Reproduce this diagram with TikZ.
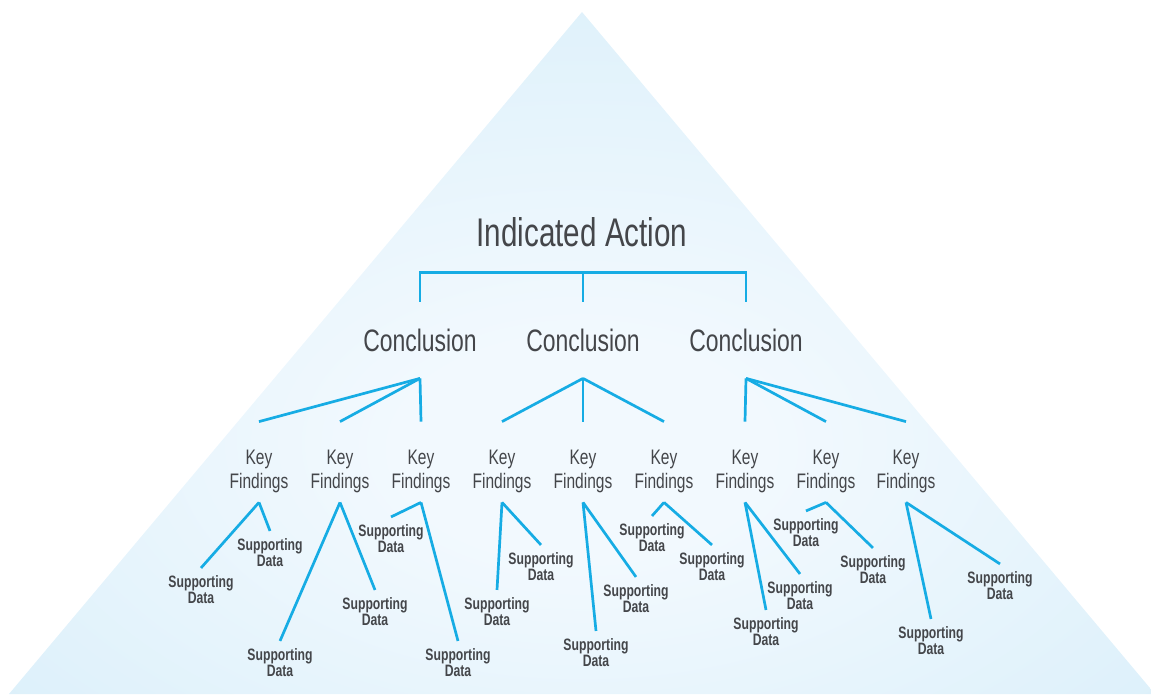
\documentclass[tikz,border=0pt]{standalone}
\usepackage{fontspec}
\setmainfont{Liberation Sans}[FakeStretch=0.74]
\definecolor{linkblue}{RGB}{22,172,228}
\definecolor{txtgray}{RGB}{68,70,74}
\definecolor{pyredge}{RGB}{213,237,249}
\definecolor{pyrmid}{RGB}{242,249,254}
\pgfdeclareradialshading{pyrglow}{\pgfpoint{0bp}{-8bp}}{color(0bp)=(pyrmid); color(8bp)=(pyrmid); color(42bp)=(pyredge); color(70bp)=(pyredge)}
\begin{document}
\begin{tikzpicture}[x=1pt,y=-1pt,
    link/.style={draw=linkblue,line width=2.7pt},
    action/.style={font=\fontsize{40}{40}\selectfont,text=txtgray,inner sep=0pt,outer ysep=26pt},
    concl/.style={font=\fontsize{31}{31}\selectfont,text=txtgray,inner sep=0pt,outer ysep=27pt},
    finding/.style={font=\fontsize{21}{24}\selectfont,text=txtgray,align=center,inner sep=0pt,outer ysep=10pt},
    support/.style={font=\bfseries\fontsize{16.5}{16}\selectfont,text=txtgray,align=center,inner sep=0pt,outer ysep=8pt}]
    \useasboundingbox (0,0) rectangle (1151,694);
    \shade[shading=pyrglow] (582,12) -- (9,694) -- (1155,694) -- cycle;

    \node[action] (ia) at (582,232) {Indicated Action};
    \foreach \x [count=\i] in {420,583,746}
        \node[concl] (c\i) at (\x,340) {Conclusion};
    \foreach \x [count=\i] in {259,340,421,502,583,664,745,826,906}
        \node[finding] (k\i) at (\x,471) {Key\\Findings};

    % bracket under the action
    \draw[link] (c1.north) |- (ia.south) -| (c3.north);
    \draw[link] (c2.north) -- (c2.north |- ia.south);

    % conclusions to key findings
    \foreach \c/\k in {1/1,1/2,1/3,2/4,2/5,2/6,3/7,3/8,3/9}
        \draw[link] (c\c.south) -- ([yshift=18pt]k\k.north);

    % supporting data, two under each finding
    \foreach \k/\x/\y [count=\i] in {1/201/590,1/270/553,2/280/663,2/375/612,3/391/539,3/458/663,
            4/497/612,4/541/567,5/596/653,5/636/599,6/652/538,6/712/567,
            7/766/632,7/800/596,8/806/533,8/873/570,9/931/641,9/1000/586}
    {
        \node[support] (s\i) at (\x,\y) {Supporting\\Data};
        \draw[link] (k\k.south) -- (s\i.north);
    }
\end{tikzpicture}
\end{document}
